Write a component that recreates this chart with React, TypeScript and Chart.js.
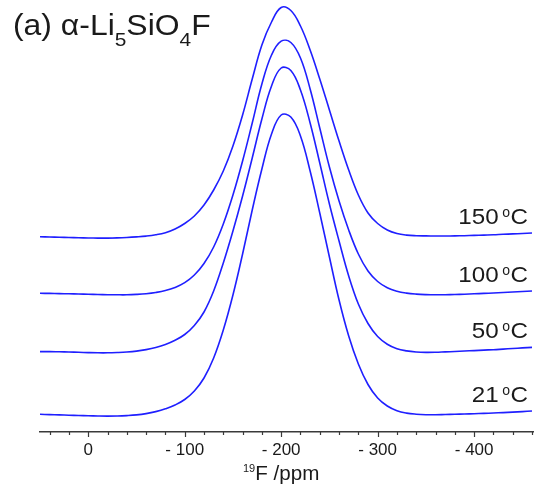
import { useEffect, useRef } from "react";
import { Chart, registerables } from "chart.js";

Chart.register(...registerables);

// chemical shift grid (ppm)
const ppm = [50, 40, 30, 20, 10, 0, -10, -20, -30, -40, -50, -60, -70, -80, -90, -100, -110, -120, -130, -140, -150, -160, -170, -180, -190, -200, -210, -220, -230, -240, -250, -260, -270, -280, -290, -300, -310, -320, -330, -340, -350, -360, -370, -380, -390, -400, -410, -420, -430, -440, -450, -460];

// intensities (a.u.)
const s150 = [0.2, 0, -0.2, -0.5, -0.8, -1.0, -1.1, -1.1, -0.9, -0.5, 0.1, 0.9, 2.2, 4.3, 8, 13.5, 21, 32, 47, 66, 91, 122, 158, 192, 215, 229.5, 226.5, 211, 187, 158, 127, 96, 67, 42, 24, 13.5, 7, 3.5, 1.9, 1.3, 1.1, 1, 1, 1.1, 1.3, 1.6, 1.9, 2.2, 2.7, 3.1, 3.5, 4];
const s100 = [0.7, 0.6, 0.4, 0.2, 0, -0.3, -0.5, -0.7, -0.8, -0.8, -0.4, 0.3, 1.5, 3.4, 6.5, 11.3, 19, 30.5, 47, 70, 99, 133, 171, 210, 239, 252.8, 251.5, 236, 205, 166, 127, 93, 64, 40, 23, 12.5, 6.3, 2.8, 0.9, -0.1, -0.6, -0.8, -0.7, -0.5, -0.2, 0.2, 0.6, 1, 1.5, 2, 2.5, 3];
const s50 = [0.4, 0.4, 0.2, 0, -0.3, -0.6, -0.8, -0.8, -0.5, 0, 0.9, 2.4, 4.5, 7.5, 11.7, 17.5, 26.5, 40, 61, 89, 121, 156, 194, 233, 266, 284, 281.5, 262, 229, 189, 148, 111, 76, 48, 28.5, 15.5, 7.8, 3.3, 1.1, 0, -0.4, -0.3, 0.1, 0.5, 1.0, 1.4, 1.9, 2.3, 2.9, 3.5, 4.1, 4.6];
const s21 = [0.7, 0.4, 0.1, -0.2, -0.5, -0.8, -1, -1.1, -1.0, -0.6, 0.1, 1.4, 3.4, 6.2, 10, 15.5, 24, 37, 57, 85, 120, 161, 205, 246, 281, 300, 298, 279, 244, 202, 158, 115, 79, 51, 30.5, 17, 9, 4.3, 1.9, 0.8, 0.3, 0.3, 0.5, 0.7, 1, 1.3, 1.6, 2, 2.4, 2.9, 3.4, 4];

const temps = ["150", "100", "50", "21"];
const series = [s150, s100, s50, s21];
const offsets = [195, 138, 80, 17];

const xTicks = [40, 20, 0, -20, -40, -60, -80, -100, -120, -140, -160, -180, -200, -220, -240, -260, -280, -300, -320, -340, -360, -380, -400, -420, -440, -460];
const majorTicks = [0, -100, -200, -300, -400];

const FONT = '"Liberation Sans", Arial, Helvetica, sans-serif';
const TEXT = "#1a1a1a";
const LINE = "#1f1fff";

function drawText(ctx: CanvasRenderingContext2D, t: string, x: number, y: number, size: number, sx: number) {
  ctx.font = `${size}px ${FONT}`;
  const w = ctx.measureText(t).width * sx;
  ctx.save();
  ctx.translate(x, y);
  ctx.scale(sx, 1);
  ctx.fillText(t, 0, 0);
  ctx.restore();
  return w;
}

function textWidth(ctx: CanvasRenderingContext2D, t: string, size: number, sx: number) {
  ctx.font = `${size}px ${FONT}`;
  return ctx.measureText(t).width * sx;
}

export default function App() {
  const ref = useRef<HTMLCanvasElement>(null);

  useEffect(() => {
    document.body.style.margin = "0";
    const canvas = ref.current;
    if (!canvas) return;

    const overlay = {
      id: "overlay",
      afterDraw(chart: any) {
        const ctx = chart.ctx as CanvasRenderingContext2D;
        const xs = chart.scales.x;
        const ys = chart.scales.y;
        const area = chart.chartArea;
        ctx.save();
        // tick marks
        ctx.strokeStyle = "#3a3a3a";
        ctx.lineWidth = 1.2;
        for (const v of xTicks) {
          const px = Math.round(xs.getPixelForValue(v)) + 0.5;
          const len = majorTicks.includes(v) ? 5 : 3;
          ctx.beginPath();
          ctx.moveTo(px, area.bottom);
          ctx.lineTo(px, area.bottom + len);
          ctx.stroke();
        }

        ctx.fillStyle = TEXT;
        ctx.textBaseline = "alphabetic";
        ctx.textAlign = "left";

        // title
        const parts: [string, number, number][] = [
          ["(a) α-Li", 29, 0],
          ["5", 19, 11],
          ["SiO", 29, 0],
          ["4", 19, 11],
          ["F", 29, 0],
        ];
        let tx = 13;
        const ty = 35;
        for (const [t, size, dy] of parts) {
          tx += drawText(ctx, t, tx, ty + dy, size, 1.1);
        }

        // temperature labels
        const rightEdge = 528;
        const sx = 1.1;
        series.forEach((s, i) => {
          const base = ys.getPixelForValue(offsets[i] + s[s.length - 1]) - 9.5;
          const wC = textWidth(ctx, "C", 22, sx);
          const wNum = textWidth(ctx, temps[i], 22, sx);
          const wO = textWidth(ctx, "o", 14, 1);
          let x = rightEdge - wC;
          drawText(ctx, "C", x, base, 22, sx);
          x -= wO + 0.5;
          drawText(ctx, "o", x, base - 7, 14, 1);
          x -= 3.5 + wNum;
          drawText(ctx, temps[i], x, base, 22, sx);
        });

        // axis title
        const wSup = textWidth(ctx, "19", 11, 1);
        const wMain = textWidth(ctx, "F /ppm", 20, 1.03);
        const cx = xs.getPixelForValue(-200);
        let ax = cx - (wSup + wMain) / 2;
        drawText(ctx, "19", ax, 472, 11, 1);
        ax += wSup;
        drawText(ctx, "F /ppm", ax, 480, 20, 1.03);
        ctx.restore();
      },
    };

    const chart = new Chart(canvas, {
      type: "line",
      data: {
        datasets: series.map((s, i) => ({
          label: temps[i] + " °C",
          data: s.map((v, j) => ({ x: ppm[j], y: v + offsets[i] })),
          borderColor: LINE,
          borderWidth: 1.6,
          pointRadius: 0,
          fill: false,
          tension: 0.4,
        })),
      },
      options: {
        responsive: false,
        animation: false,
        devicePixelRatio: 1,
        layout: { padding: { left: 40, right: 0, top: 0, bottom: 0 } },
        plugins: {
          legend: { display: false },
          tooltip: { enabled: false },
          title: { display: false },
        },
        scales: {
          x: {
            type: "linear",
            reverse: true,
            min: -462,
            max: 50,
            afterBuildTicks: (s: any) => {
              s.ticks = xTicks.map((v) => ({ value: v }));
            },
            afterFit: (s: any) => {
              s.height = 61;
            },
            grid: {
              display: true,
              drawOnChartArea: false,
              drawTicks: true,
              tickLength: 6,
              tickColor: "rgba(0,0,0,0)",
            },
            border: { display: true, color: "#3a3a3a", width: 1.5 },
            ticks: {
              autoSkip: false,
              maxRotation: 0,
              padding: 2,
              color: TEXT,
              font: { family: FONT, size: 17 },
              callback: (v: any) =>
                majorTicks.includes(Number(v)) ? (Number(v) === 0 ? "0" : "- " + Math.abs(Number(v))) : "",
            },
          },
          y: { type: "linear", min: 0, max: 432, display: false },
        },
      },
      plugins: [overlay],
    });
    return () => chart.destroy();
  }, []);

  return (
    <div style={{ width: 534, height: 493 }}>
      <canvas ref={ref} width={534} height={493} style={{ display: "block" }} />
    </div>
  );
}
